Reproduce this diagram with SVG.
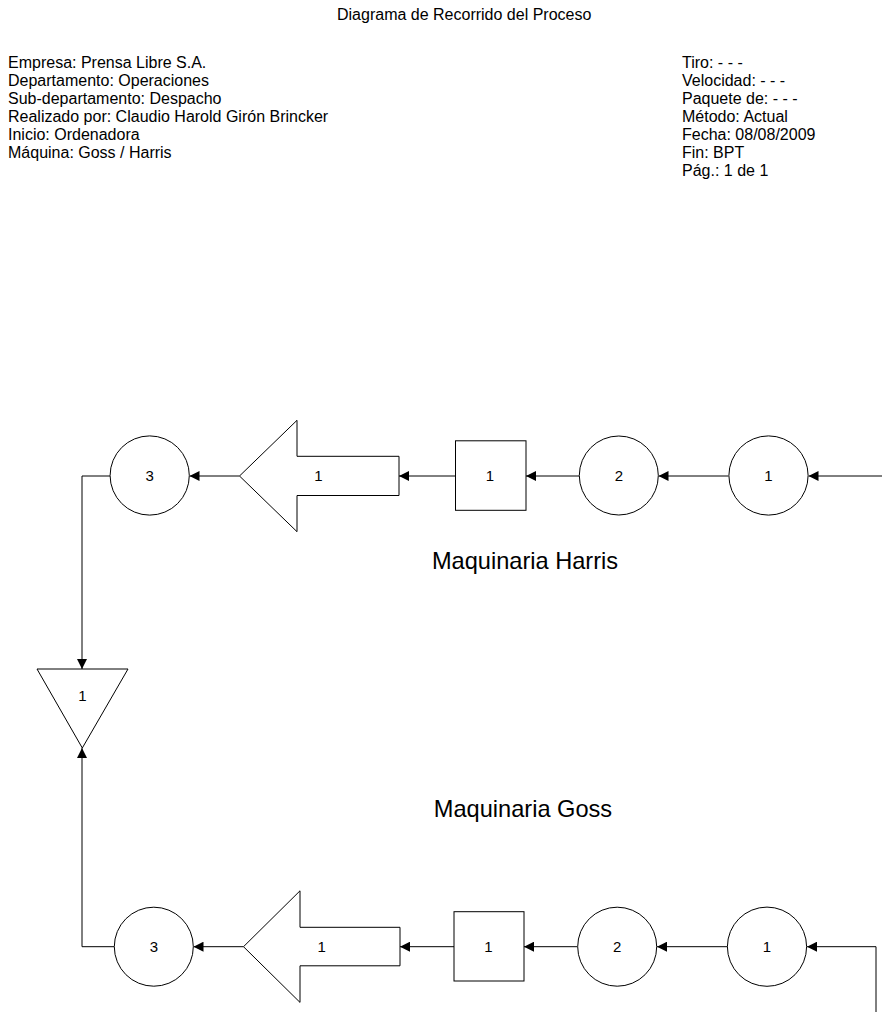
<svg xmlns="http://www.w3.org/2000/svg" width="882" height="1012" viewBox="0 0 882 1012">
<defs>
<marker id="ah" markerUnits="userSpaceOnUse" markerWidth="10" markerHeight="10" refX="10" refY="5" orient="auto">
<path d="M0,0 L10,5 L0,10 z" fill="#000"/>
</marker>
<style>
.hd{font-family:"Liberation Sans",Arial,sans-serif;font-size:16px;fill:#000}
.lb{font-family:"Liberation Sans",Arial,sans-serif;font-size:15px;fill:#000;text-anchor:middle}
.big{font-family:"Liberation Sans",Arial,sans-serif;font-size:23.6px;fill:#000;text-anchor:middle}
.sh{fill:#fff;stroke:#000;stroke-width:1}
.cn{fill:none;stroke:#000;stroke-width:1;marker-end:url(#ah)}
</style>
</defs>
<rect width="882" height="1012" fill="#fff"/>
<g id="header">
<text class="hd" x="337" y="20">Diagrama de Recorrido del Proceso</text>
<text class="hd" x="8" y="68">Empresa: Prensa Libre S.A.</text>
<text class="hd" x="8" y="86">Departamento: Operaciones</text>
<text class="hd" x="8" y="104">Sub-departamento: Despacho</text>
<text class="hd" x="8" y="122">Realizado por: Claudio Harold Girón Brincker</text>
<text class="hd" x="8" y="140">Inicio: Ordenadora</text>
<text class="hd" x="8" y="158">Máquina: Goss / Harris</text>
<text class="hd" x="682" y="68">Tiro: - - -</text>
<text class="hd" x="682" y="86">Velocidad: - - -</text>
<text class="hd" x="682" y="104">Paquete de: - - -</text>
<text class="hd" x="682" y="122">Método: Actual</text>
<text class="hd" x="682" y="140">Fecha: 08/08/2009</text>
<text class="hd" x="682" y="158">Fin: BPT</text>
<text class="hd" x="682" y="176">Pág.: 1 de 1</text>
</g>
<g id="labels">
<text class="big" x="525" y="569">Maquinaria Harris</text>
<text class="big" x="523" y="817">Maquinaria Goss</text>
</g>
<g id="connectors">
<path class="cn" d="M882,476 H808.5"/>
<path class="cn" d="M728.5,476 H658.5"/>
<path class="cn" d="M579,476 H526"/>
<path class="cn" d="M455.5,476 H399"/>
<path class="cn" d="M239.5,476 H189.5"/>
<path class="cn" d="M110,476 H82 V669"/>
<path class="cn" d="M876,1012 V946.7 H807"/>
<path class="cn" d="M727.5,946.7 H657"/>
<path class="cn" d="M577.5,946.7 H524"/>
<path class="cn" d="M454,946.7 H400"/>
<path class="cn" d="M243.5,946.7 H193.5"/>
<path class="cn" d="M114,946.7 H82 V748"/>
</g>
<g id="h-op3"><circle class="sh" cx="149.7" cy="475.5" r="39.6"/><text class="lb" x="149.7" y="481">3</text></g>
<g id="h-transport1"><path class="sh" d="M239.5,476 L297,420.3 V456.3 H399 V495.5 H297 V531.7 Z"/><text class="lb" x="318.5" y="481">1</text></g>
<g id="h-inspect1"><rect class="sh" x="455.5" y="440.8" width="70.5" height="69.5"/><text class="lb" x="490" y="481">1</text></g>
<g id="h-op2"><circle class="sh" cx="618.8" cy="475.5" r="39.5"/><text class="lb" x="618.8" y="481">2</text></g>
<g id="h-op1"><circle class="sh" cx="768.5" cy="475.5" r="39.6"/><text class="lb" x="768.5" y="481">1</text></g>
<g id="storage1"><path class="sh" d="M37,669 H128 L82.3,748 Z"/><text class="lb" x="82.3" y="701">1</text></g>
<g id="g-op3"><circle class="sh" cx="153.8" cy="946.7" r="39.5"/><text class="lb" x="153.8" y="952">3</text></g>
<g id="g-transport1"><path class="sh" d="M243.5,946.7 L300,890.8 V927.3 H400 V965.8 H300 V1002.4 Z"/><text class="lb" x="321.7" y="952">1</text></g>
<g id="g-inspect1"><rect class="sh" x="454" y="911.7" width="70" height="69.3"/><text class="lb" x="488.5" y="952">1</text></g>
<g id="g-op2"><circle class="sh" cx="617.2" cy="946.7" r="39.5"/><text class="lb" x="617.2" y="952">2</text></g>
<g id="g-op1"><circle class="sh" cx="767" cy="946.7" r="39.6"/><text class="lb" x="767" y="952">1</text></g>
</svg>
